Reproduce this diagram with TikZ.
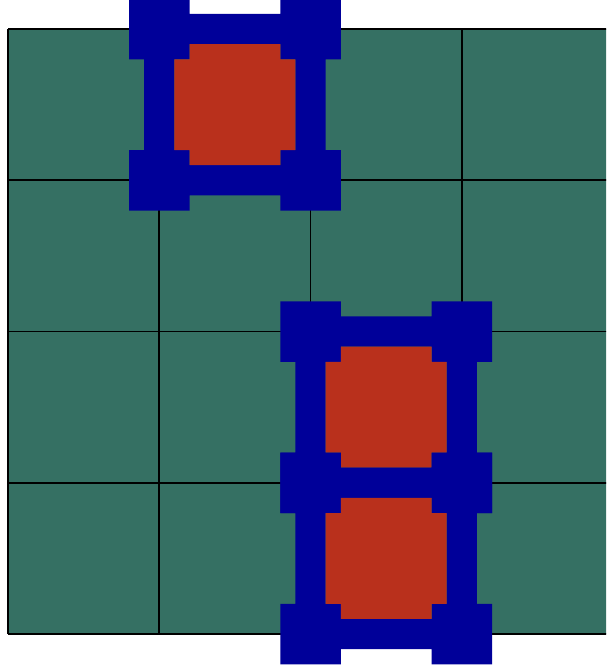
\documentclass[tikz,border=0pt]{standalone}
\definecolor{gridgreen}{RGB}{53,112,99}
\definecolor{tilered}{RGB}{185,48,28}
\definecolor{tileblue}{RGB}{0,0,153}
\tikzset{
  gridline/.style={line width=1.8pt, black},
  tileshape/.pic={
    \fill[tileblue] (-7,-7) rectangle (-3,-3) (3,-7) rectangle (7,-3)
      (-7,3) rectangle (-3,7) (3,3) rectangle (7,7)
      (-3,-6) rectangle (3,-4) (-3,4) rectangle (3,6)
      (-6,-3) rectangle (-4,3) (4,-3) rectangle (6,3);
    \fill[tilered] (-4,-3) rectangle (4,3) (-3,-4) rectangle (3,4);
  }
}
\begin{document}
\begin{tikzpicture}[x=1pt,y=-1pt]
\useasboundingbox (0,0) rectangle (606,672);
\clip (0,0) rectangle (606,672);
\fill[gridgreen] (8,29) rectangle (613,634);
\foreach \i in {0,...,4} {
  \draw[gridline] (8+151.25*\i,29) -- (8+151.25*\i,634);
  \draw[gridline] (8,29+151.25*\i) -- (613,29+151.25*\i);
}
\begin{scope}[shift={(234.875,104.625)},x=15.125pt,y=15.125pt]
  \pic {tileshape};
\end{scope}
\begin{scope}[shift={(386.125,407.125)},x=15.125pt,y=15.125pt]
  \pic {tileshape};
\end{scope}
\begin{scope}[shift={(386.125,558.375)},x=15.125pt,y=15.125pt]
  \pic {tileshape};
\end{scope}
\end{tikzpicture}
\end{document}
